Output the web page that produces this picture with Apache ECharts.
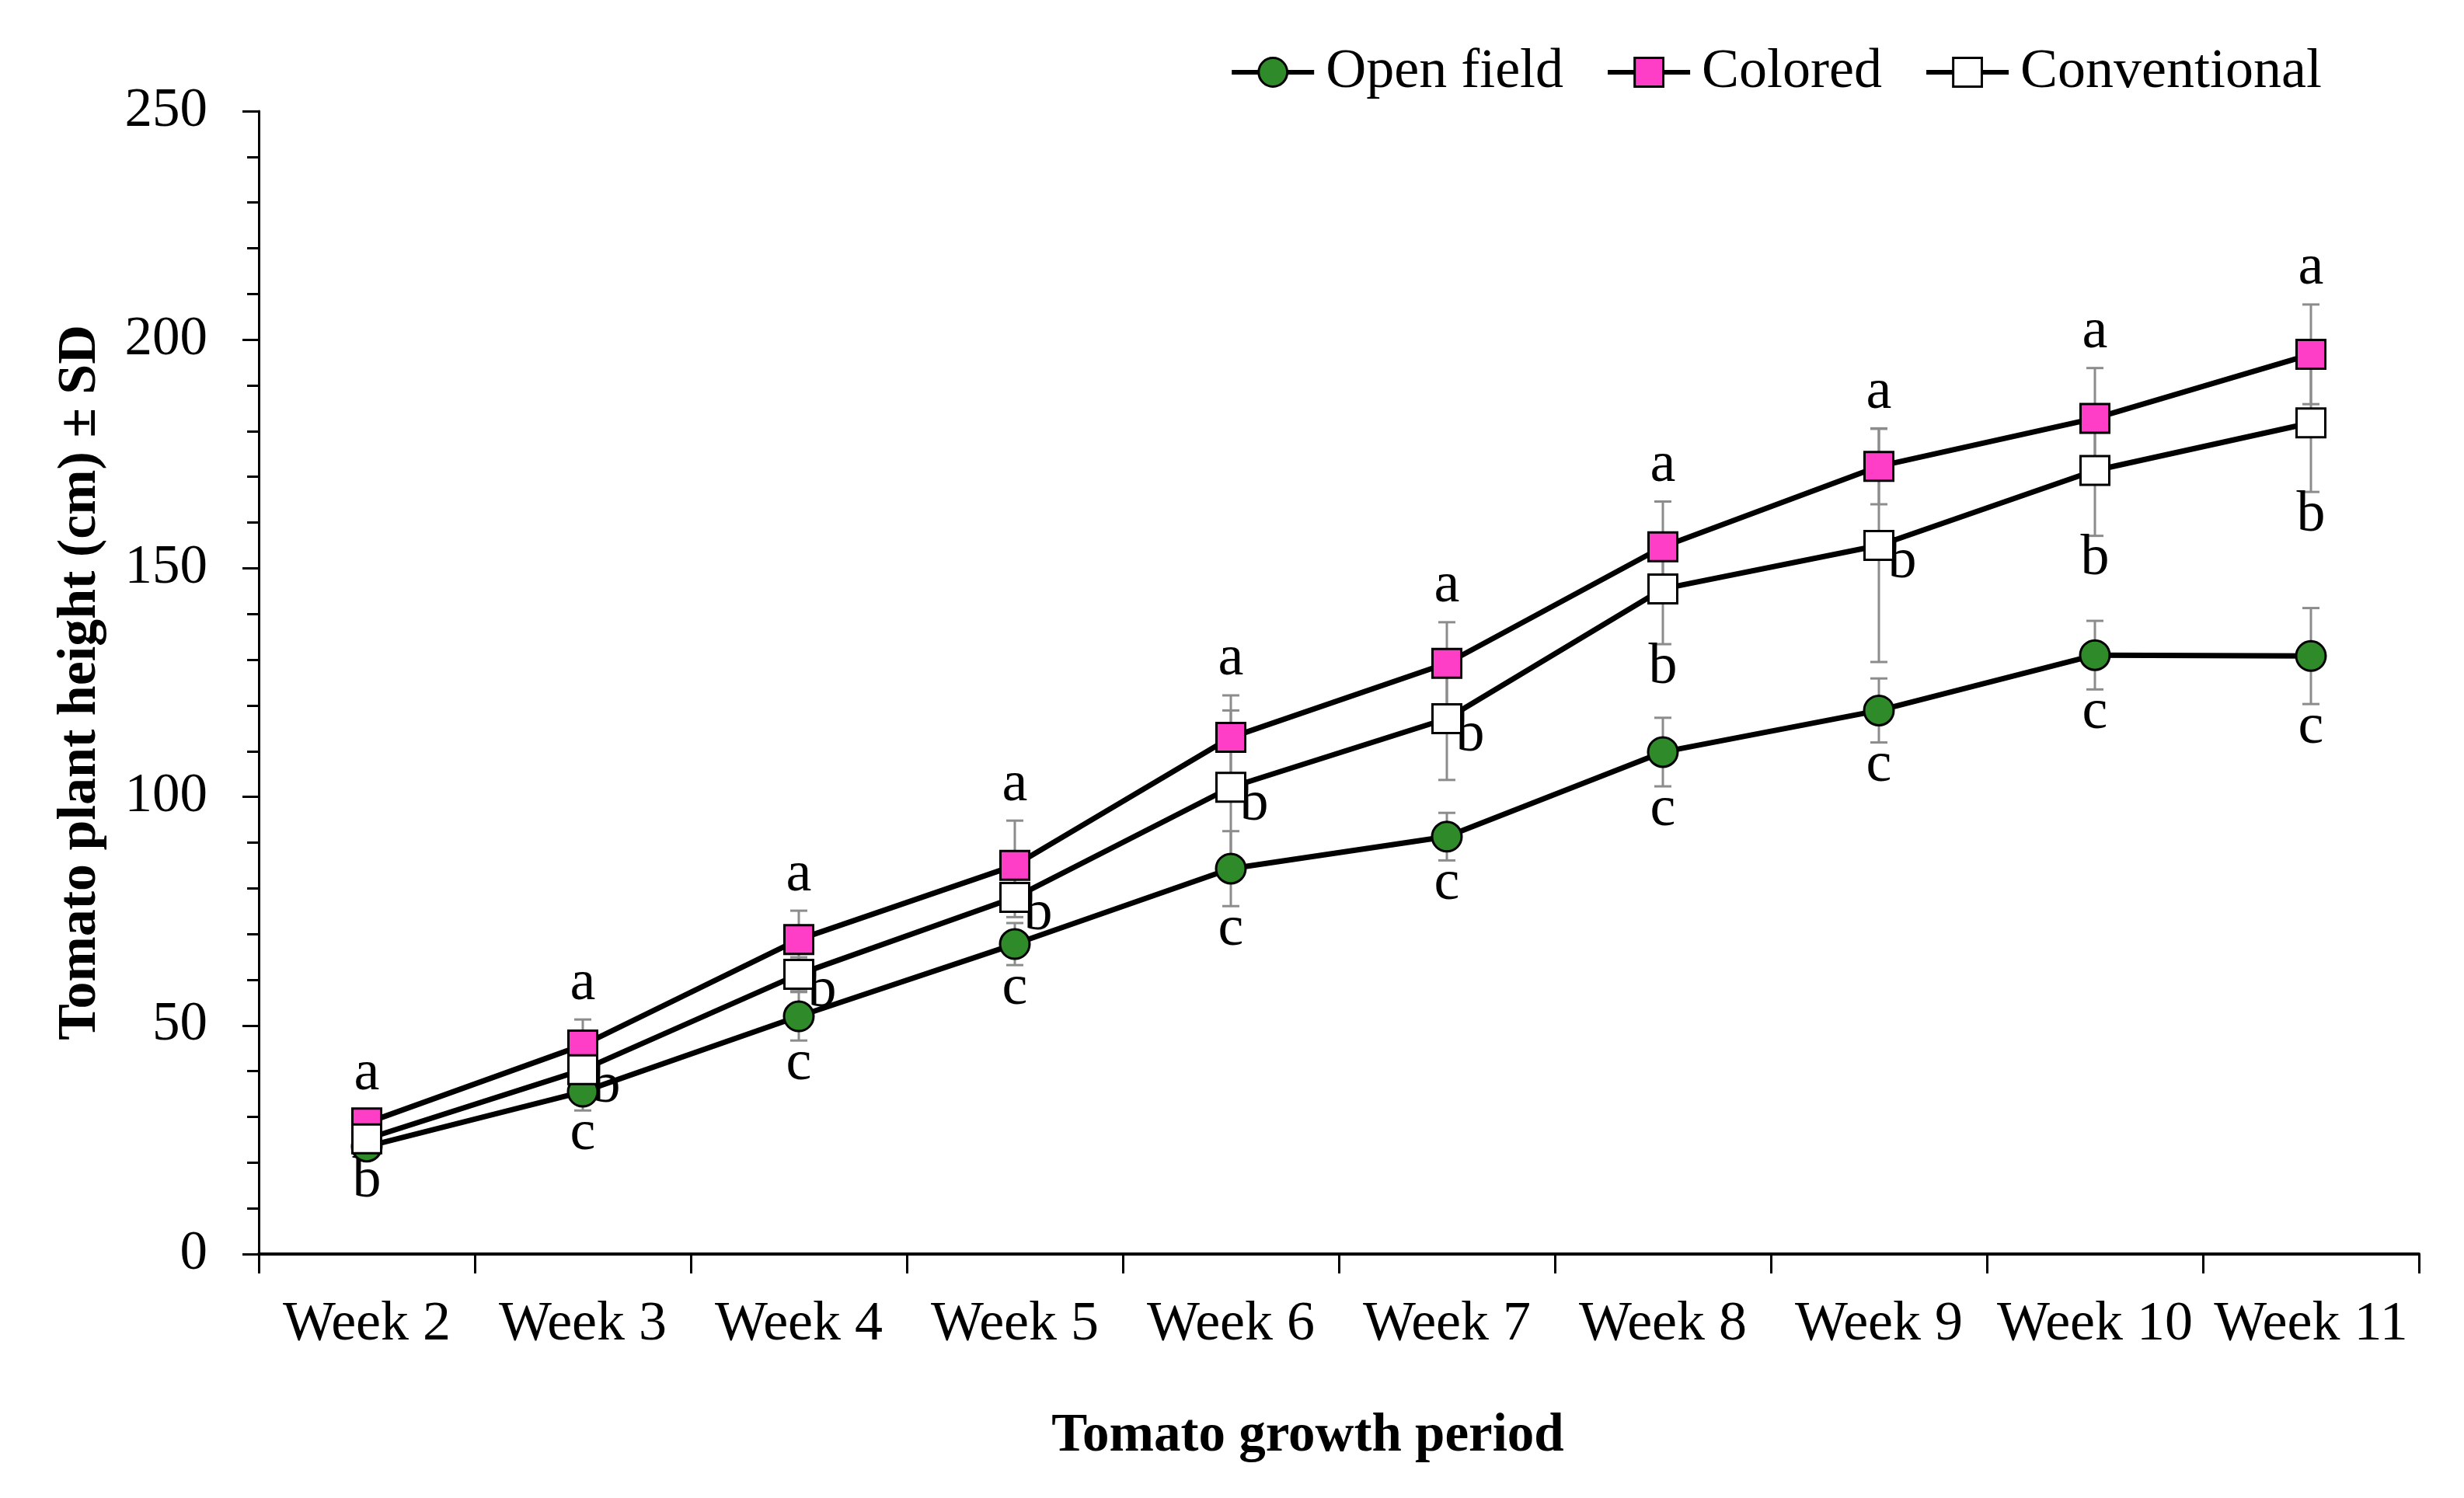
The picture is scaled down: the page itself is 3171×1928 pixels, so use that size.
<!DOCTYPE html>
<html><head><meta charset="utf-8">
<script src="https://cdn.jsdelivr.net/npm/echarts@6/dist/echarts.min.js"></script>
<style>html,body{margin:0;padding:0;background:#fff}#c{width:3171px;height:1928px}</style>
</head><body><div id="c"></div>
<script>
const weeks = ['Week 2','Week 3','Week 4','Week 5','Week 6','Week 7','Week 8','Week 9','Week 10','Week 11'];
const openField   = [23.5, 35.5, 52.0, 67.8, 84.3, 91.3, 109.8, 118.9, 131.0, 130.8];
const openFieldSD = [2.5, 4.1, 5.3, 4.6, 8.2, 5.2, 7.5, 7.0, 7.5, 10.5];
const colored     = [28.7, 45.7, 68.8, 85.0, 113.0, 129.2, 154.7, 172.3, 182.8, 196.8];
const coloredSD   = [2.9, 5.6, 6.3, 9.8, 9.2, 9.0, 9.9, 8.3, 11.0, 10.9];
const conventional   = [25.2, 40.3, 61.2, 78.0, 102.1, 117.1, 145.5, 155.0, 171.4, 181.8];
const conventionalSD = [2.5, 3.5, 3.7, 4.3, 16.8, 13.4, 12.1, 25.5, 14.3, 15.1];
const openLetters    = ['b','c','c','c','c','c','c','c','c','c'];
const coloredLetters = ['a','a','a','a','a','a','a','a','a','a'];
const convLetters    = ['','b','b','b','b','b','b','b','b','b'];
const yTicks = [0, 50, 100, 150, 200, 250];

const openSide = openLetters.map(() => 'below');
const coloredSide = coloredLetters.map(() => 'above');
const convSide = ['below','right','right','right','right','right','below','right','below','below'];

const FONT = '"Liberation Serif", "Times New Roman", serif';

function errRender(letters, sides) {
  return function (params, api) {
    const i = api.value(0), v = api.value(1), sd = api.value(2);
    const c = api.coord([i, v]);
    const top = api.coord([i, v + sd]);
    const bot = api.coord([i, v - sd]);
    const half = 11;
    const st = { stroke: '#8c8c8c', lineWidth: 3 };
    const children = [
      { type: 'line', shape: { x1: c[0], y1: top[1], x2: c[0], y2: bot[1] }, style: st },
      { type: 'line', shape: { x1: c[0] - half, y1: top[1], x2: c[0] + half, y2: top[1] }, style: st },
      { type: 'line', shape: { x1: c[0] - half, y1: bot[1], x2: c[0] + half, y2: bot[1] }, style: st }
    ];
    const L = letters[params.dataIndex];
    if (L) {
      const s = sides[params.dataIndex];
      let x = c[0], y;
      if (s === 'above') y = top[1] - 46;
      else if (s === 'below') y = bot[1] + 30;
      else { x = c[0] + 30; y = c[1] + 22; }
      children.push({ type: 'text', style: { text: L, x: x, y: y, align: 'center', verticalAlign: 'middle',
        font: '74px ' + FONT, fill: '#000' } });
    }
    return { type: 'group', children: children };
  };
}

function errData(vals, sds) { return vals.map((v, i) => [i, v, sds[i]]); }

const chart = echarts.init(document.getElementById('c'));
chart.setOption({
  animation: false,
  backgroundColor: '#fff',
  textStyle: { fontFamily: FONT },
  grid: { left: 333, right: 58, top: 143, bottom: 314, containLabel: false },
  legend: {
    data: ['Open field', 'Colored', 'Conventional'],
    right: 178, top: 52,
    itemWidth: 106, itemHeight: 46, itemGap: 54,
    selectedMode: false,
    lineStyle: { width: 6, color: '#000' },
    itemStyle: { borderWidth: 3, borderColor: '#000' },
    textStyle: { fontFamily: FONT, fontSize: 72, color: '#000', padding: [0, 0, 0, 10] }
  },
  xAxis: {
    type: 'category', data: weeks, boundaryGap: true,
    axisLine: { lineStyle: { color: '#000', width: 4 } },
    axisTick: { show: true, length: 25, lineStyle: { color: '#000', width: 3 } },
    axisLabel: { color: '#000', fontFamily: FONT, fontSize: 72, margin: 55, interval: 0 },
    name: 'Tomato growth period', nameLocation: 'middle', nameGap: 201,
    nameTextStyle: { color: '#000', fontFamily: FONT, fontWeight: 'bold', fontSize: 69, padding: [0, 80, 0, 0] }
  },
  yAxis: {
    type: 'value', min: yTicks[0], max: yTicks[yTicks.length - 1], interval: 50,
    axisLine: { show: true, lineStyle: { color: '#000', width: 3 } },
    axisTick: { show: true, length: 21, lineStyle: { color: '#000', width: 3 } },
    minorTick: { show: true, splitNumber: 5, length: 15, lineStyle: { color: '#000', width: 3 } },
    splitLine: { show: false },
    axisLabel: { color: '#000', fontFamily: FONT, fontSize: 71, margin: 66 },
    name: 'Tomato plant height (cm) ± SD', nameLocation: 'middle', nameGap: 194,
    nameTextStyle: { color: '#000', fontFamily: FONT, fontWeight: 'bold', fontSize: 70 }
  },
  series: [
    { name: 'err-open', type: 'custom', z: 1, renderItem: errRender(openLetters, openSide),
      data: errData(openField, openFieldSD), encode: { x: 0, y: 1 }, silent: true },
    { name: 'err-colored', type: 'custom', z: 1, renderItem: errRender(coloredLetters, coloredSide),
      data: errData(colored, coloredSD), encode: { x: 0, y: 1 }, silent: true },
    { name: 'err-conv', type: 'custom', z: 1, renderItem: errRender(convLetters, convSide),
      data: errData(conventional, conventionalSD), encode: { x: 0, y: 1 }, silent: true },
    { name: 'Open field', type: 'line', data: openField, symbol: 'circle', symbolSize: 38,
      lineStyle: { color: '#000', width: 7 },
      itemStyle: { color: '#2f8a2a', borderColor: '#000', borderWidth: 3 } },
    { name: 'Colored', type: 'line', data: colored, symbol: 'rect', symbolSize: 37,
      lineStyle: { color: '#000', width: 7 },
      itemStyle: { color: '#ff3ec8', borderColor: '#000', borderWidth: 3 } },
    { name: 'Conventional', type: 'line', data: conventional, symbol: 'rect', symbolSize: 37,
      lineStyle: { color: '#000', width: 7 },
      itemStyle: { color: '#ffffff', borderColor: '#000', borderWidth: 3 } }
  ]
});
</script>
</body></html>
